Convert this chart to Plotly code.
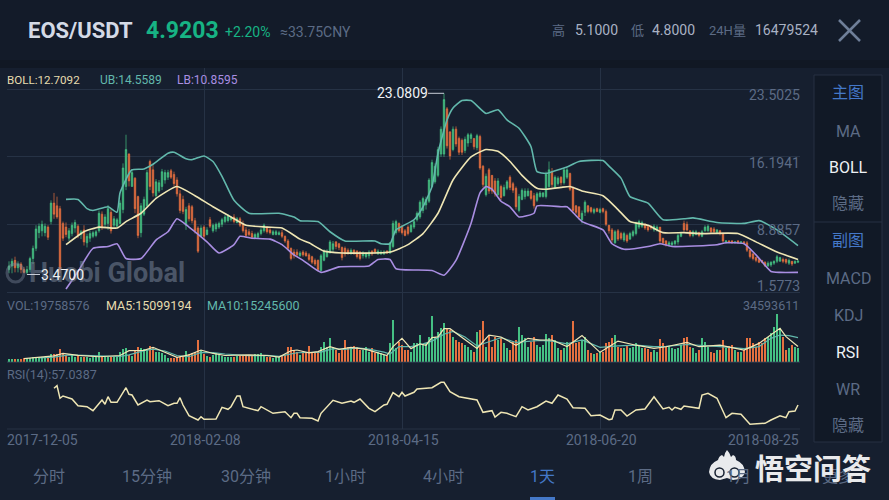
import pandas as pd
import plotly.graph_objects as go

# ---------- data ----------
start_date = "2017-12-05"
n_days = 264

opens = [4.0,4.4,5.0,4.2,4.6,4.0,3.7,4.0,5.2,6.3,
8.0,8.2,8.0,8.6,9.2,11.2,10.9,10.6,9.0,8.6,
7.4,7.9,8.5,8.7,7.8,8.3,6.9,7.4,7.6,7.7,
8.2,10.0,8.9,9.0,10.2,8.8,8.7,9.0,10.5,13.0,
16.5,13.0,13.9,11.9,8.0,10.0,10.9,15.7,14.8,12.0,
12.5,13.0,13.7,14.0,14.7,14.3,13.7,12.2,11.6,8.8,
10.9,10.8,9.3,8.5,7.6,8.6,7.8,9.4,8.2,8.4,
8.6,8.9,9.2,9.3,9.4,9.7,9.1,9.5,8.9,8.3,
8.1,7.9,7.4,7.5,7.9,8.2,8.5,8.3,7.8,7.8,
7.8,8.0,7.6,7.1,6.3,5.9,5.9,5.5,5.9,5.8,
5.6,5.4,5.0,5.0,3.9,5.0,5.4,5.9,6.2,7.0,
6.8,6.4,6.3,6.1,5.8,6.1,6.0,5.9,5.5,5.4,
5.5,6.0,6.2,5.7,5.7,5.7,6.0,5.8,6.5,8.0,
9.0,8.7,8.2,8.6,8.1,8.6,9.4,9.7,10.4,11.0,
11.4,13.0,13.5,14.2,16.5,16.5,21.4,18.9,17.0,19.2,
18.2,18.0,16.9,17.7,18.2,18.2,17.2,18.4,15.2,12.1,
14.8,14.2,13.6,12.1,13.0,12.0,12.8,14.0,13.3,12.8,
10.4,11.6,11.9,12.0,12.5,12.0,11.5,11.9,11.9,11.9,
13.0,14.6,12.9,13.3,14.0,13.4,14.0,14.4,12.9,10.9,
10.8,9.4,10.2,10.9,10.7,10.2,10.6,10.2,10.6,10.3,
8.8,8.3,6.9,8.2,7.9,7.2,7.7,7.3,7.7,7.9,
8.6,8.7,8.9,8.7,8.7,8.3,8.3,8.6,7.4,7.1,
6.7,6.7,6.8,7.0,7.6,9.0,8.9,8.2,7.7,7.8,
8.0,7.6,8.2,8.2,8.5,8.4,8.0,8.2,7.9,7.0,
7.1,7.1,6.9,7.1,6.9,7.0,6.9,6.1,5.7,5.3,
5.1,5.0,4.8,4.4,4.5,4.7,4.9,4.9,5.1,5.1,
4.7,4.9,4.7,4.8]

highs = [4.9,5.2,5.4,4.9,4.8,4.3,4.4,5.4,6.6,8.8,
9.0,9.3,9.0,8.8,11.5,12.3,11.9,10.9,9.2,9.1,
8.5,9.1,9.4,8.9,8.3,8.8,7.9,8.2,8.2,8.3,
10.4,10.3,10.0,11.0,10.6,9.8,9.6,11.5,15.5,18.6,
16.6,14.8,14.0,12.0,11.2,11.9,14.8,15.9,15.3,13.8,
13.7,14.9,14.8,14.8,14.9,14.6,14.0,12.6,12.0,10.8,
11.2,11.0,9.6,8.7,8.8,8.8,8.6,9.7,9.0,9.1,
9.2,9.6,9.9,10.0,9.8,10.0,9.7,9.7,9.3,8.6,
8.4,8.2,8.0,8.1,8.5,9.0,8.7,8.5,8.3,8.3,
8.2,8.3,7.7,7.3,6.4,6.2,6.2,6.0,6.1,6.0,
5.8,5.5,5.2,5.1,5.7,6.2,6.2,7.2,7.1,7.1,
6.9,6.5,6.5,6.3,6.3,6.2,6.1,6.0,6.0,5.9,
6.1,6.1,6.3,6.2,6.1,6.1,6.1,7.0,9.3,9.4,
9.1,8.8,8.4,8.8,9.0,9.4,10.3,11.5,11.9,11.9,
13.9,15.9,15.5,17.3,19.5,23.08,21.6,19.0,19.5,19.5,
18.4,18.2,18.4,18.8,18.8,18.2,18.7,18.6,15.3,14.4,
15.0,14.2,13.9,13.9,13.2,13.2,13.7,14.2,13.5,13.0,
12.2,12.8,12.8,12.8,12.6,12.3,12.4,12.5,12.4,14.6,
15.7,15.0,14.2,14.1,14.1,15.0,15.0,14.5,13.0,11.0,
10.8,10.4,11.5,11.0,10.8,10.7,10.7,10.7,10.7,10.5,
8.8,8.5,8.3,8.4,8.1,8.1,7.9,8.1,8.3,9.2,
9.4,9.3,9.0,8.8,8.8,8.9,8.8,8.6,7.4,7.2,
7.1,7.1,7.2,7.9,8.1,9.3,9.2,8.2,8.3,8.3,
8.1,8.3,8.8,8.9,8.6,8.6,8.4,8.3,8.0,7.2,
7.2,7.2,7.1,7.2,7.1,7.1,7.1,6.1,5.8,5.4,
5.2,5.0,4.9,4.9,4.9,5.0,5.6,5.4,5.3,5.2,
5.2,4.9,5.0,5.1]

lows = [3.6,3.6,3.7,3.7,3.6,3.6,3.47,3.7,4.6,6.0,
7.4,7.6,7.6,7.2,8.9,9.5,9.5,3.6,7.1,7.5,
7.1,7.6,8.0,7.4,7.3,6.6,6.4,7.0,7.4,7.5,
8.0,8.3,8.5,8.3,7.9,8.6,8.6,8.9,10.1,12.6,
13.0,13.0,10.1,7.4,7.5,9.8,10.7,12.6,11.9,11.8,
12.3,12.6,13.3,13.7,13.8,13.0,11.9,10.1,10.0,8.3,
9.2,9.0,7.9,5.8,7.5,7.3,7.7,8.5,8.0,8.1,
8.4,8.6,9.0,9.1,9.2,9.0,9.0,8.6,8.0,7.5,
7.6,7.3,7.3,7.4,7.7,8.0,7.9,7.8,7.7,7.7,
7.7,7.4,6.9,6.1,5.0,5.2,5.4,5.4,5.4,5.4,
4.9,4.6,4.4,3.8,3.8,4.9,5.3,5.7,5.8,6.2,
6.1,5.0,5.4,5.6,5.6,5.6,5.2,5.0,5.2,5.2,
5.2,5.5,5.7,5.6,5.6,5.6,5.7,5.7,6.3,7.8,
8.0,7.8,7.6,7.7,8.0,8.4,9.2,9.5,10.1,10.5,
11.2,12.9,13.3,14.0,16.2,16.2,17.1,15.9,16.8,17.3,
16.4,16.4,16.6,17.3,17.7,17.0,16.9,14.8,12.9,11.9,
12.2,12.2,11.9,12.0,11.5,11.9,12.6,12.6,12.3,10.5,
10.2,11.5,11.6,11.9,11.5,10.6,11.3,11.8,11.8,11.7,
12.8,12.9,12.8,13.1,13.1,13.2,13.8,12.5,10.1,10.0,
9.4,9.0,9.8,10.1,10.1,10.0,10.2,10.1,10.1,8.7,
7.9,6.9,6.8,7.1,7.2,7.0,6.9,7.2,7.5,7.7,
8.4,8.5,8.3,8.1,8.3,8.1,8.1,6.8,6.7,6.5,
6.5,6.5,6.6,6.7,7.5,8.1,8.1,7.5,7.5,7.7,
7.5,7.5,8.1,8.1,7.9,7.9,7.9,7.7,6.9,6.8,
6.9,6.8,6.8,6.8,6.8,6.8,5.9,5.2,5.0,4.8,
4.7,4.7,4.3,4.3,4.3,4.5,4.7,4.9,4.7,4.6,
4.5,4.4,4.6,4.7]

closes = [4.4,4.9,4.2,4.6,4.0,3.7,4.0,5.2,6.3,8.4,
8.7,8.9,8.7,7.5,11.2,10.0,9.7,4.0,7.4,7.8,
8.2,8.8,9.1,7.7,8.1,7.0,7.6,7.9,8.0,8.1,
10.1,8.6,9.7,10.6,8.2,9.5,9.4,11.2,15.0,17.0,
13.6,14.5,10.6,7.7,10.9,11.6,14.5,13.0,12.3,13.5,
13.4,14.6,14.5,14.5,14.0,13.3,12.2,10.4,10.3,10.5,
9.5,9.3,8.2,6.0,8.5,7.6,8.3,8.7,8.8,8.9,
9.0,9.4,9.7,9.8,9.6,9.2,9.5,8.8,8.2,7.7,
7.8,7.5,7.8,7.9,8.3,8.8,8.1,8.0,8.1,8.1,
8.0,7.6,7.1,6.3,5.2,5.5,5.6,5.8,5.6,5.5,
5.1,4.8,4.6,4.0,5.5,6.0,6.0,7.0,6.8,6.5,
6.4,5.3,5.7,5.8,6.1,5.8,5.4,5.2,5.8,5.7,
5.9,5.7,5.9,6.0,5.9,5.9,5.8,6.9,9.0,9.2,
8.2,8.0,7.7,7.9,8.8,9.2,10.1,11.3,11.7,11.6,
13.7,15.6,15.2,17.0,19.2,22.4,17.4,16.3,19.2,17.6,
16.7,16.7,18.1,18.6,18.6,17.3,18.5,15.0,13.2,14.1,
12.5,12.5,12.2,13.6,11.8,12.9,13.5,12.9,12.6,10.8,
11.9,12.6,12.5,12.5,11.7,10.9,12.2,12.3,12.3,14.3,
14.8,13.2,14.0,13.9,13.4,14.8,14.8,12.7,10.4,10.2,
9.7,10.1,11.3,10.3,10.3,10.5,10.3,10.5,10.3,8.9,
8.2,7.2,8.1,7.3,7.4,7.9,7.1,7.9,8.1,9.0,
9.2,9.1,8.5,8.3,8.5,8.7,8.6,7.1,6.9,6.7,
6.9,6.9,7.1,7.7,7.9,8.3,8.3,7.7,8.1,8.1,
7.7,8.1,8.6,8.7,8.1,8.1,8.3,7.9,7.1,7.1,
7.0,6.9,7.0,6.9,7.0,6.9,6.1,5.4,5.2,5.0,
4.8,4.8,4.4,4.7,4.8,4.9,5.4,5.3,4.9,4.8,
5.0,4.6,4.9,4.92]

# volume in millions
volumes = [1.9,1.9,1.9,1.9,1.9,2.9,2.9,2.9,3.4,3.6,
3.6,3.6,3.6,3.6,5.8,5.3,5.3,9.2,5.8,4.9,
3.6,4.9,3.6,4.4,3.6,3.6,3.6,2.9,3.4,3.4,
6.8,3.6,3.4,3.4,3.4,3.4,3.4,7.3,9.2,9.7,
4.9,4.4,8.5,10.9,10.2,9.2,8.5,11.6,10.7,6.8,
7.3,6.1,4.9,2.9,2.9,2.9,3.4,3.6,4.4,7.8,
5.3,6.1,6.8,15.8,8.5,5.3,4.4,3.6,4.9,6.1,
4.9,4.4,3.6,3.6,3.4,3.4,3.9,3.9,4.4,4.4,
4.9,4.9,5.3,5.8,6.3,4.4,3.6,3.4,2.9,3.4,
3.6,4.4,4.9,10.9,10.9,8.5,6.8,4.9,6.1,7.3,
11.4,7.3,6.1,7.3,10.9,14.6,10.9,17.0,10.9,8.5,
6.1,8.5,15.8,10.9,10.9,11.6,10.9,8.5,8.5,10.9,
7.3,9.7,6.1,7.3,6.1,4.9,4.4,13.3,30.3,9.7,
14.6,12.1,8.5,8.5,7.3,13.3,13.3,19.4,12.1,13.3,
18.2,33.2,18.2,21.8,24.3,27.9,24.3,23.1,18.2,15.8,
14.6,13.3,12.1,10.9,8.5,7.3,21.8,23.1,29.6,10.9,
19.4,10.9,18.2,15.8,17.0,13.3,9.7,8.5,14.6,15.8,
25.5,19.4,17.0,10.9,14.6,18.2,12.1,10.9,12.1,19.9,
17.0,19.4,15.8,9.7,8.5,9.7,14.6,12.1,29.6,13.3,
14.6,15.8,18.2,8.5,6.1,5.3,6.1,6.8,7.3,13.3,
14.6,17.5,19.4,10.9,9.7,10.2,11.6,10.2,10.9,13.3,
12.1,9.7,9.7,9.2,7.3,8.5,7.3,16.5,13.3,10.9,
11.6,10.2,9.2,9.7,12.1,17.0,18.2,10.9,9.7,6.1,
8.5,17.5,14.6,10.9,7.3,6.1,8.5,8.5,15.8,9.7,
11.6,12.1,8.5,7.3,7.3,8.5,17.5,17.5,13.3,10.9,
14.6,13.3,17.0,18.2,20.6,25.5,34.59,24.3,18.2,8.5,
10.2,12.1,10.9,9.7]

upper_days = [19,23,26,28,33,36,37,40,41,45,48,53,55,59,61,65,68,71,75,80,90,95,97,103,107,112,122,124,127,129,135,138,141,143,146,148,151,154,159,163,166,170,174,176,179,184,186,190,198,200,204,207,213,218,225,228,236,245,250,256,263]
upper_band = [11.6,11.6,10.6,10.4,10.8,10.2,12.3,14.4,14.8,14.9,15.4,16.6,16.7,16.0,15.9,16.3,15.7,14.1,11.5,10.1,10.1,9.7,9.3,9.2,8.1,7.1,7.1,6.8,6.8,8.3,9.4,10.8,13.0,16.6,20.2,21.5,22.3,22.3,20.9,21.3,20.2,19.3,17.3,14.6,14.4,14.9,15.1,15.7,15.8,15.2,13.9,11.9,11.2,9.4,9.5,9.6,9.1,9.0,9.3,8.3,6.6]

mid_days = [19,25,30,36,39,44,49,56,62,68,74,79,86,91,97,100,105,111,127,133,138,143,148,154,159,163,167,171,176,179,184,187,191,198,203,207,213,218,225,231,243,249,256,263]
mid_band = [6.7,8.1,8.6,8.5,9.2,10.1,11.7,13.0,12.0,10.8,9.7,8.8,8.6,8.5,7.3,6.9,6.0,5.8,5.9,6.7,7.9,10.1,13.7,16.2,17.0,16.8,15.7,14.2,12.8,12.7,12.9,13.0,12.5,12.0,10.5,9.2,8.8,8.0,8.0,7.9,7.9,7.0,5.9,5.1]

lower_days = [19,23,28,33,36,39,44,49,53,56,60,66,70,75,77,81,87,91,95,98,104,110,120,123,127,129,141,145,149,154,157,159,161,164,167,170,175,176,184,186,191,198,201,205,213,217,221,236,239,245,249,254,257,263]
lower_band = [1.9,3.8,6.3,6.5,6.8,5.2,5.2,7.2,8.1,9.5,8.6,7.0,5.8,6.7,7.6,7.4,7.3,6.7,5.6,5.0,3.7,4.3,4.4,5.1,5.1,4.1,3.9,3.4,5.0,9.0,12.3,13.0,12.7,11.4,10.8,9.7,10.1,10.9,10.8,10.8,9.2,8.3,6.8,6.2,6.5,6.8,6.5,6.7,6.9,6.8,5.6,3.8,3.7,3.7]

vol_ma5_days = [5,10,15,18,23,30,37,40,45,48,52,56,60,64,68,72,80,86,90,94,96,100,103,107,110,114,119,124,126,128,131,134,137,139,141,143,145,147,150,156,160,164,169,173,177,181,186,191,197,203,209,215,219,226,230,237,245,250,257,259,263]
vol_ma5 = [2.2,3.2,4.2,6.0,4.6,3.6,4.5,8.0,8.3,10.5,7.0,3.2,5.0,8.5,6.0,4.5,4.9,4.5,3.4,8.0,8.5,6.5,7.3,11.0,9.0,10.4,9.0,5.5,4.5,11.0,17.0,9.5,13.0,12.0,17.5,18.0,24.0,24.0,19.4,9.7,19.4,18.0,12.0,17.0,15.8,15.8,11.0,19.0,6.8,15.0,12.0,9.7,10.9,14.0,10.9,12.0,8.5,13.3,24.3,18.2,11.0]

vol_ma10_days = [10,15,20,25,30,37,40,45,48,52,56,60,64,68,72,80,86,90,96,100,104,108,112,116,120,125,127,130,134,138,141,145,148,152,156,160,164,169,173,177,181,186,191,197,203,209,215,219,226,230,237,245,250,254,257,260,263]
vol_ma10 = [2.8,3.4,5.0,4.6,3.9,3.8,5.0,8.0,9.2,7.8,4.5,3.6,6.8,6.6,5.6,4.4,4.6,3.9,6.5,6.8,7.0,9.5,9.0,10.0,9.2,7.0,5.6,11.0,11.0,13.0,15.0,20.0,22.0,18.0,11.5,14.5,17.5,14.0,15.0,15.5,15.0,13.0,15.8,10.5,11.5,12.0,10.9,11.2,12.5,12.0,11.0,9.5,11.0,17.0,19.4,19.0,17.5]

rsi_days = [15,16,17,18,21,23,26,28,31,32,33,34,36,39,40,41,43,46,47,50,53,55,56,57,58,60,63,64,65,69,71,73,74,76,77,78,83,84,88,92,94,95,96,97,101,103,104,108,111,114,115,117,120,122,125,126,128,130,131,132,135,136,141,144,145,147,150,156,158,161,162,164,166,169,171,173,176,179,181,183,186,188,192,194,197,200,201,202,204,206,209,212,215,218,220,221,222,224,225,230,231,233,236,239,241,244,247,252,254,257,259,260,262,263]
rsi_vals = [73.7,76.3,63.7,66,63,56.3,55.3,51.3,62,57.7,65.3,59.7,59.7,74.3,67.7,67,57,62,60.3,61.3,56.3,58.7,58.7,64.3,57,46.3,42,45.3,42.7,43,54.7,52.7,55.3,66,66,55.3,51.3,55.3,48.7,50.3,44.3,48.7,48.7,44.3,43.7,41,48.7,61.7,58.7,61,59.7,63,53.7,50.3,57,57.7,69.3,65.3,69.7,66,69.7,73,74.3,79.7,79.7,70.3,65.3,62,49.7,51.3,45,49.7,48.7,45.3,55.3,52,55.3,61,58.7,67,63,54.3,53.7,46.3,47,42.3,43,52,52,46,52,53,65.3,53,54.7,52,54.7,52.7,56,53.7,67,68.7,63.7,44.3,48.7,47.7,37.7,38.7,42,46.3,44.3,50.3,51,57.04]

price_ticks = [1.5773, 8.8857, 16.1941, 23.5025]
price_tick_labels = ["1.5773", "8.8857", "16.1941", "23.5025"]
date_ticks = ["2018-02-08", "2018-04-15", "2018-06-20"]
tab_labels = ["分时", "15分钟", "30分钟", "1小时", "4小时", "1天", "1周", "1月", "更多"]
side_labels = ["主图", "MA", "BOLL", "隐藏", "副图", "MACD", "KDJ", "RSI", "WR", "隐藏"]

assert all(len(s) == n_days for s in [opens, highs, lows, closes, volumes])
assert len(upper_days) == len(upper_band) and len(mid_days) == len(mid_band) and len(lower_days) == len(lower_band)
assert len(vol_ma5_days) == len(vol_ma5) and len(vol_ma10_days) == len(vol_ma10) and len(rsi_days) == len(rsi_vals)

# ---------- colours ----------
BG = "#161f2f"
BAR = "#131b29"
GRID = "#263245"
UP = "#45c083"
DOWN = "#e5703f"
CREAM = "#efe6b4"
TEAL = "#62b8ac"
PURPLE = "#a98ee2"
GREY = "#5c6b85"
BLUE = "#4478c8"
FONT = "Roboto, 'Noto Sans CJK SC', sans-serif"

W, H = 889, 500
dates = pd.date_range(start_date, periods=n_days)
DAY_MS = 86400000
bar_colors = [UP if c >= o else DOWN for o, c in zip(opens, closes)]

fig = go.Figure()

fig.add_trace(go.Candlestick(
    x=dates, open=opens, high=highs, low=lows, close=closes,
    whiskerwidth=0,
    increasing=dict(line=dict(color=UP, width=0.7), fillcolor=UP),
    decreasing=dict(line=dict(color=DOWN, width=0.7), fillcolor=DOWN),
    showlegend=False, hoverinfo="skip",
))
for days, vals, col in [(upper_days, upper_band, TEAL), (mid_days, mid_band, CREAM), (lower_days, lower_band, PURPLE)]:
    fig.add_trace(go.Scatter(x=dates[days], y=vals, mode="lines", showlegend=False,
                             line=dict(color=col, width=1.6, shape="spline", smoothing=0.5)))

fig.add_trace(go.Bar(x=dates, y=volumes, yaxis="y2", width=DAY_MS * 0.66,
                     marker=dict(color=bar_colors, line=dict(width=0)), showlegend=False))
fig.add_trace(go.Scatter(x=dates[vol_ma10_days], y=vol_ma10, yaxis="y2", mode="lines", showlegend=False,
                         line=dict(color=TEAL, width=1.2)))
fig.add_trace(go.Scatter(x=dates[vol_ma5_days], y=vol_ma5, yaxis="y2", mode="lines", showlegend=False,
                         line=dict(color=CREAM, width=1.2)))
fig.add_trace(go.Scatter(x=dates[rsi_days], y=rsi_vals, yaxis="y3", mode="lines", showlegend=False,
                         line=dict(color=CREAM, width=1.5)))


def py(p):
    return 1 - p / H


def px(p):
    return p / W


annotations = []


def txt(x, y, text, color, size, anchor="left", bold=False, family=FONT, opacity=None):
    if bold:
        text = "<b>" + text + "</b>"
    a = dict(xref="paper", yref="paper", x=px(x), y=py(y), text=text, showarrow=False,
             xanchor=anchor, yanchor="middle", borderpad=0, borderwidth=0,
             font=dict(color=color, size=size, family=family))
    if opacity is not None:
        a["opacity"] = opacity
    annotations.append(a)


# header
txt(28, 30, "EOS/USDT", "#d4dae6", 22, bold=True)
txt(146, 30, "4.9203", "#17b384", 23, bold=True)
txt(225, 32, "+2.20%", "#17b384", 14)
txt(280, 32, "≈33.75CNY", GREY, 14)
txt(552, 30, "高", GREY, 13)
txt(575, 30, "5.1000", "#a9b2c4", 14)
txt(631, 30, "低", GREY, 13)
txt(652, 30, "4.8000", "#a9b2c4", 14)
txt(709, 30, "24H量", GREY, 13)
txt(755, 30, "16479524", "#a9b2c4", 14)

# indicator labels
txt(7, 80, "BOLL:12.7092", "#e6dcae", 11.6)
txt(100, 80, "UB:14.5589", TEAL, 12)
txt(177, 80, "LB:10.8595", PURPLE, 12)
txt(7, 305, "VOL:19758576", GREY, 12.5)
txt(106, 305, "MA5:15099194", "#e6dcae", 12.5)
txt(207, 305, "MA10:15245600", TEAL, 12.5)
txt(799, 305, "34593611", GREY, 12.5, anchor="right")
txt(7, 374, "RSI(14):57.0387", GREY, 12.5)

# date labels
txt(7, 440, "2017-12-05", GREY, 14)
txt(205, 440, "2018-02-08", GREY, 14, anchor="center")
txt(403, 440, "2018-04-15", GREY, 14, anchor="center")
txt(601, 440, "2018-06-20", GREY, 14, anchor="center")
txt(799, 440, "2018-08-25", GREY, 14, anchor="right")

# price scale labels
for val, lab in zip(price_ticks, price_tick_labels):
    above = val == price_ticks[0]
    annotations.append(dict(xref="paper", yref="y", x=px(800), y=val, text=lab, showarrow=False,
                            xanchor="right", yanchor="bottom" if above else "top",
                            borderpad=0, borderwidth=0, yshift=-2 if above else 2,
                            font=dict(color=GREY, size=14, family=FONT)))

# watermark
txt(29, 273, "Huobi Global", "#7f8ca0", 27, bold=True, opacity=0.5)

# high / low markers
annotations.append(dict(x=dates[145], y=23.0809, text="23.0809", showarrow=True, arrowhead=0, arrowwidth=1,
                        arrowcolor="#c9ced8", ax=-42, ay=0, xref="x", yref="y", borderpad=0,
                        font=dict(color="#f0f2f5", size=14, family=FONT)))
annotations.append(dict(x=dates[6], y=3.47, text="3.4700", showarrow=True, arrowhead=0, arrowwidth=1,
                        arrowcolor="#c9ced8", ax=35, ay=0, xref="x", yref="y", borderpad=0,
                        font=dict(color="#f0f2f5", size=14, family=FONT)))

# side menu
side_y = [93, 131, 167, 203, 240, 278, 315, 352, 389, 425]
for lab, y in zip(side_labels, side_y):
    col = BLUE if lab in ("主图", "副图") else "#eef1f5" if lab in ("BOLL", "RSI") else GREY
    txt(848, y, lab, col, 16, anchor="center")

# bottom tabs
tab_x = [49, 147, 246, 345, 443, 542, 640, 738, 838]
for lab, x in zip(tab_labels, tab_x):
    txt(x, 476, lab, BLUE if lab == "1天" else GREY, 16, anchor="center")

# wukong logo text
txt(755, 467, "悟空问答", "#e9eaec", 29, bold=True, family="'Noto Sans CJK SC'")


def pp(x, y):
    return f"{px(x):.5f} {py(y):.5f}"


cloud = ("M " + pp(709, 472) + " Q " + pp(710, 463) + " " + pp(718, 460)
         + " Q " + pp(719, 456) + " " + pp(722, 455) + " L " + pp(724, 457)
         + " Q " + pp(725, 452) + " " + pp(727, 450) + " Q " + pp(730, 453) + " " + pp(731, 457)
         + " L " + pp(733, 455) + " Q " + pp(736, 456) + " " + pp(736, 460)
         + " Q " + pp(744, 463) + " " + pp(745, 472) + " Q " + pp(744, 479) + " " + pp(733, 480)
         + " L " + pp(727, 478) + " L " + pp(720, 480) + " Q " + pp(710, 479) + " " + pp(709, 472) + " Z")

shapes = [
    dict(type="rect", xref="paper", yref="paper", x0=0, x1=1, y0=py(60), y1=1, fillcolor=BAR, line_width=0, layer="below"),
    dict(type="rect", xref="paper", yref="paper", x0=0, x1=1, y0=py(68), y1=py(60), fillcolor="#111824", line_width=0, layer="below"),
    dict(type="rect", xref="paper", yref="paper", x0=px(814), x1=px(882), y0=py(442), y1=py(75), fillcolor="#111926",
         line=dict(color="#273142", width=1), layer="below"),
    dict(type="line", xref="paper", yref="paper", x0=px(814), x1=px(882), y0=py(222), y1=py(222),
         line=dict(color="#273142", width=1), layer="below"),
    dict(type="rect", xref="paper", yref="paper", x0=px(530), x1=px(555), y0=0, y1=py(497), fillcolor=BLUE, line_width=0),
    # close cross
    dict(type="line", xref="paper", yref="paper", x0=px(839), x1=px(860), y0=py(20), y1=py(41),
         line=dict(color="#6f7f99", width=2.5)),
    dict(type="line", xref="paper", yref="paper", x0=px(839), x1=px(860), y0=py(41), y1=py(20),
         line=dict(color="#6f7f99", width=2.5)),
    # huobi ring
    dict(type="circle", xref="paper", yref="paper", x0=px(7), x1=px(24), y0=py(282), y1=py(264),
         line=dict(color="#7f8ca0", width=3), opacity=0.4),
    # wukong cloud mark
    dict(type="path", xref="paper", yref="paper", path=cloud, fillcolor="#e9eaec", line_width=0),
    dict(type="circle", xref="paper", yref="paper", x0=px(715), x1=px(724), y0=py(477), y1=py(468),
         line=dict(color=BG, width=1.5)),
    dict(type="circle", xref="paper", yref="paper", x0=px(730), x1=px(739), y0=py(477), y1=py(468),
         line=dict(color=BG, width=1.5)),
]

x_left = dates[0] + pd.Timedelta(days=-2 / 3)
x_right = dates[0] + pd.Timedelta(days=791 / 3)

fig.update_layout(
    width=W, height=H, autosize=False,
    margin=dict(l=0, r=0, t=0, b=0, pad=0),
    paper_bgcolor=BG, plot_bgcolor="rgba(0,0,0,0)",
    font=dict(family=FONT),
    hovermode=False, bargap=0,
    annotations=annotations, shapes=shapes,
    xaxis=dict(domain=[px(7), px(800)], range=[x_left, x_right], type="date",
               rangeslider=dict(visible=False), tickmode="array", tickvals=date_ticks, showticklabels=False,
               showgrid=True, gridcolor=GRID, gridwidth=1, zeroline=False, showline=False, ticks="",
               anchor="y3"),
    yaxis=dict(domain=[py(300), py(68)], range=[0.7115, 25.82], tickmode="array", tickvals=price_ticks,
               showticklabels=False, showgrid=True, gridcolor=GRID, zeroline=False, showline=False, ticks=""),
    yaxis2=dict(domain=[py(361.7), py(300)], range=[0, 44.9], showticklabels=False, showgrid=False,
                zeroline=True, zerolinecolor=GRID, showline=False, ticks=""),
    yaxis3=dict(domain=[py(429), py(361.7)], range=[33, 100.3], showticklabels=False, showgrid=False,
                tickmode="array", tickvals=[33], zeroline=False, showline=False, ticks=""),
)
fig.add_shape(type="line", xref="paper", yref="paper", x0=px(7), x1=px(800), y0=py(429), y1=py(429),
              line=dict(color=GRID, width=1), layer="below")

fig.write_html("out.html", config={"displayModeBar": False}, post_script="document.body.style.margin='0';")
